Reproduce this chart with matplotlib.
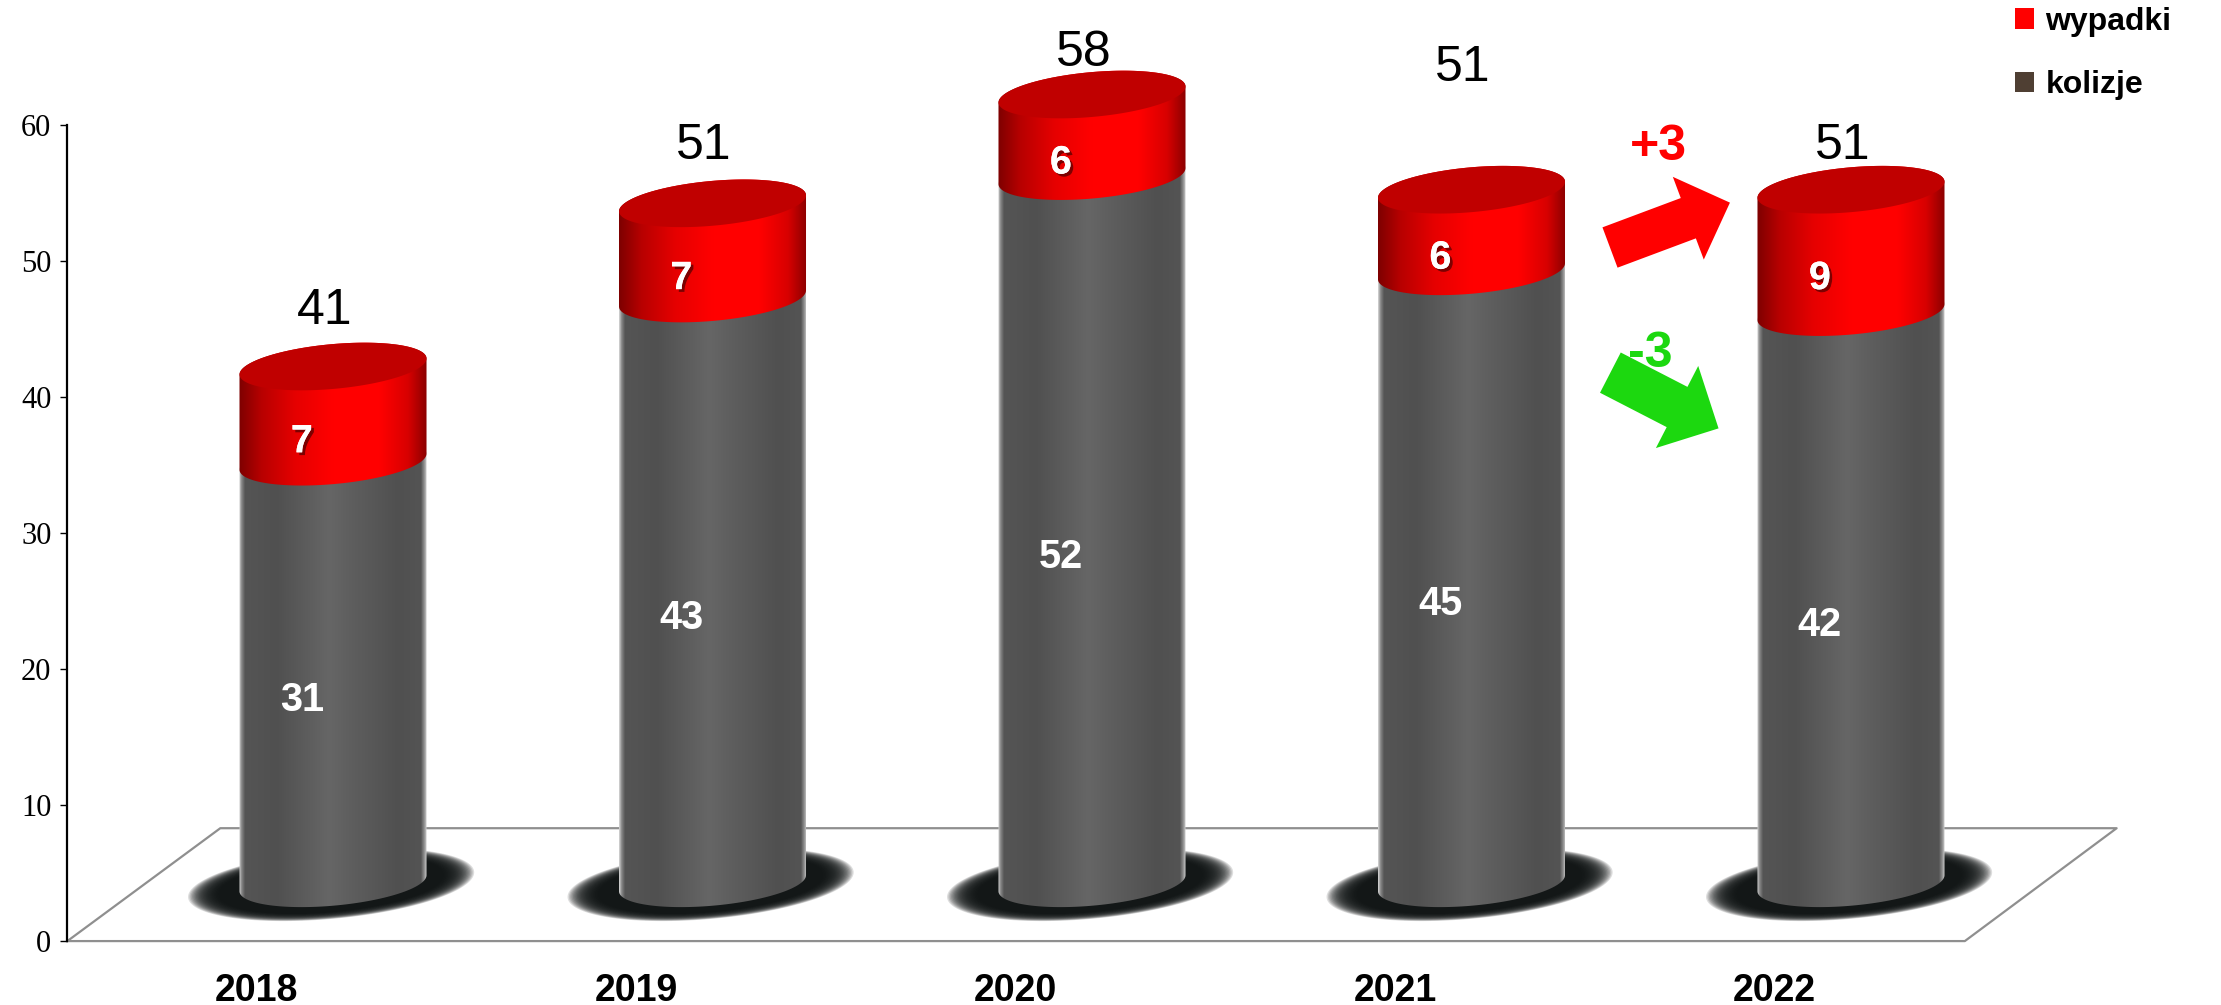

# Stacked cylinders: kolizje + wypadki 2018-2022
import numpy as np
import matplotlib
matplotlib.use("Agg")
import matplotlib.pyplot as plt
import matplotlib.patheffects as pe
from matplotlib.colors import LinearSegmentedColormap
from matplotlib.patches import Patch, Polygon

years = ["2018", "2019", "2020", "2021", "2022"]
kolizje = [31, 43, 52, 45, 42]
wypadki = [7, 7, 6, 6, 9]
totals = [41, 51, 58, 51, 51]
yticks = [0, 10, 20, 30, 40, 50, 60]
total_gap = [4.05, 4.25, 3.05, 8.95, 3.25]  # how far the total sits above each cylinder

# shape of the fake 3d
base_y = 4.25
half_w = 0.2464
half_h = 1.65
tilt = 0.59

grey_cmap = LinearSegmentedColormap.from_list("grey_cyl", [
    (0.0, "#d0d0d0"), (0.012, "#8a8a8a"), (0.03, "#555555"), (0.2, "#505050"),
    (0.48, "#666666"), (0.6, "#5e5e5e"), (0.85, "#505050"), (0.97, "#545454"),
    (0.99, "#9a9a9a"), (1.0, "#d0d0d0")])
red_cmap = LinearSegmentedColormap.from_list("red_cyl", [
    (0.0, "#7e0000"), (0.12, "#b80000"), (0.3, "#e60000"), (0.5, "#ff0000"),
    (0.75, "#ff0000"), (0.9, "#d80000"), (1.0, "#8c0000")])


def ellipse(cx, cy, t, scale=1.0):
    x = cx + scale * half_w * np.cos(t)
    y = cy + scale * (half_h * np.sin(t) + tilt * np.cos(t))
    return np.column_stack([x, y])


def draw_body(ax, cx, y0, y1, cmap, z):
    lower = ellipse(cx, y0, np.linspace(np.pi, 2 * np.pi, 80))
    upper = ellipse(cx, y1, np.linspace(0, np.pi, 80))
    shape = Polygon(np.vstack([lower, upper]), closed=True, facecolor="none",
                    edgecolor="none", transform=ax.transData, zorder=z)
    ax.add_patch(shape)
    grad = np.linspace(0, 1, 256).reshape(1, -1)
    im = ax.imshow(grad, cmap=cmap, aspect="auto", zorder=z, vmin=0, vmax=1,
                   extent=(cx - half_w, cx + half_w, y0 - 3, y1 + 3))
    im.set_clip_path(shape)


fig = plt.figure(figsize=(22.21, 10.05), dpi=100)
ax = fig.add_axes([0, 0, 1, 1])
ax.patch.set_alpha(0)

# floor
floor_x = [-0.70, 4.30, 4.70, -0.297, -0.70]
floor_y = [0, 0, 8.3, 8.3, 0]
ax.plot(floor_x, floor_y, color="#8f8f8f", lw=1.6, zorder=1)

t_full = np.linspace(0, 2 * np.pi, 160)
for i in range(len(years)):
    # soft shadow under each cylinder
    for s in np.linspace(1.53, 1.2, 24):
        pts = ellipse(i - 0.005, base_y - 0.1, t_full, scale=s)
        ax.add_patch(Polygon(pts, closed=True, facecolor="#101414",
                             edgecolor="none", alpha=0.14, zorder=2))

    y_mid = base_y + kolizje[i]
    y_top = y_mid + wypadki[i]
    draw_body(ax, i, base_y, y_mid, grey_cmap, 3 + i * 0.1)
    draw_body(ax, i, y_mid, y_top, red_cmap, 4 + i * 0.1)
    ax.add_patch(Polygon(ellipse(i, y_top, t_full), closed=True,
                         facecolor="#c00000", edgecolor="none", zorder=5))

    ax.text(i - 0.082, base_y + kolizje[i] / 2 - 2.0, str(kolizje[i]), color="white",
            family="Liberation Sans", weight="bold", fontsize=28.5,
            ha="center", va="center", zorder=6)
    t = ax.text(i - 0.082, y_mid + wypadki[i] / 2 - 2.0, str(wypadki[i]), color="white",
                family="Liberation Sans", weight="bold", fontsize=28.5,
                ha="center", va="center", zorder=6)
    t.set_path_effects([pe.withSimplePatchShadow(offset=(2, -2), shadow_rgbFace="#600000", alpha=0.8),
                        pe.Normal()])
    ax.text(i - 0.022, y_top + total_gap[i], str(totals[i]), color="black",
            family="Liberation Sans", fontsize=36, ha="center", va="center", zorder=6)

# change arrows between 2021 and 2022
ax.annotate("", xy=(3.681, 54.3), xytext=(3.365, 51.0), zorder=6,
            arrowprops=dict(width=31, headwidth=63.6, headlength=32,
                            facecolor="#ff0000", edgecolor="none"))
ax.annotate("", xy=(3.651, 37.7), xytext=(3.366, 41.8), zorder=6,
            arrowprops=dict(width=32.6, headwidth=66.5, headlength=33.6,
                            facecolor="#1cd80f", edgecolor="none"))
ax.text(3.493, 58.4, "+3", color="#ff0000", family="Liberation Sans", weight="bold",
        fontsize=36, ha="center", va="center", zorder=7)
ax.text(3.472, 43.2, "-3", color="#1cd80f", family="Liberation Sans", weight="bold",
        fontsize=36, ha="center", va="center", zorder=7)

ax.set_xlim(-0.8775, 4.975)
ax.set_ylim(-4.7, 69.2)

ax.spines["top"].set_visible(False)
ax.spines["right"].set_visible(False)
ax.spines["bottom"].set_visible(False)
ax.spines["bottom"].set_position(("data", 0))
ax.spines["left"].set_position(("data", -0.70))
ax.spines["left"].set_bounds(0, 60)
ax.spines["left"].set_linewidth(1.6)

ax.set_yticks(yticks)
ax.tick_params(axis="y", length=5, width=1, pad=6.5)
for lab in ax.get_yticklabels():
    lab.set_family("Liberation Serif")
    lab.set_fontsize(22)

ax.set_xticks(np.arange(len(years)) - 0.201)
ax.set_xticklabels(years, family="Liberation Sans", weight="bold", fontsize=27)
ax.tick_params(axis="x", length=0, pad=23)

handles = [Patch(facecolor="#ff0000", label="wypadki"),
           Patch(facecolor="#4f3f33", label="kolizje")]
ax.legend(handles=handles, loc="upper left", bbox_to_anchor=(0.8944, 1.022), frameon=False,
          prop=dict(family="Liberation Sans", weight="bold", size=23),
          handlelength=0.6, handleheight=0.6, handletextpad=0.35, labelspacing=1.05)

fig.savefig("out.png", dpi=100)
